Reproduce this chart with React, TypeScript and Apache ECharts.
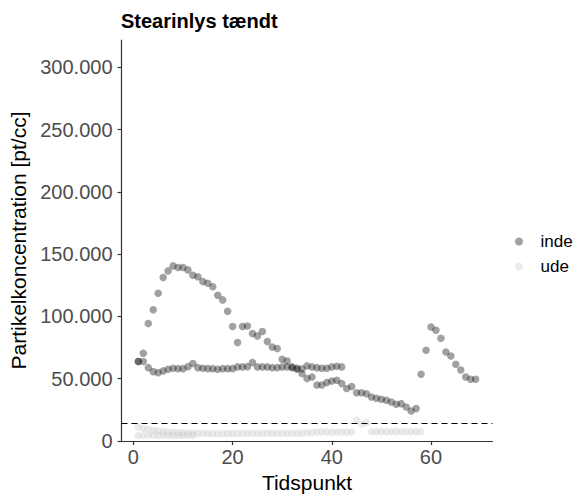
import React, { useEffect, useRef } from "react";
import * as echarts from "echarts";

const FONT = "'Liberation Sans', Arial, Helvetica, sans-serif";

const chartTitle = "Stearinlys tændt";
const xName = "Tidspunkt";
const yName = "Partikelkoncentration [pt/cc]";
const legendNames = ["inde", "ude"];
const xTicks = [0, 20, 40, 60];
const yTicks = [0, 50000, 100000, 150000, 200000, 250000, 300000];

// inde, instrument 1 (tidspunkt 1..69)
const indeA = [
  63800, 70500, 94300, 105300, 118700, 131300, 136600, 140600, 139300, 139300,
  137400, 133100, 131800, 128000, 126700, 123800, 117000, 113300, 104200, 91900,
  79000, 91900, 92400, 86300, 84400, 87900, 79800, 75500, 74200, 65600,
  64300, 58900, 57600, 54100, 50100, 51400, 45000, 45000, 46900, 48200,
  48800, 46100, 42100, 43700, 38800, 38800, 38000, 35400, 34300, 33500,
  32700, 31300, 29500, 30000, 27300, 24100, 26000, 53600, 72900, 91600,
  88900, 82500, 71500, 68300, 61600, 57000, 51400, 49600, 49600,
];

// inde, instrument 2 (tidspunkt 1..42)
const indeB = [
  63800, 63800, 58900, 55700, 54900, 56300, 57600, 58400, 58100, 58100,
  59700, 62200, 58900, 58400, 58100, 58100, 57600, 58100, 58100, 58100,
  59500, 59500, 59700, 63000, 59500, 59500, 59500, 58900, 58900, 59500,
  59500, 59500, 58400, 58000, 60300, 59500, 58900, 58400, 58400, 59500,
  60000, 59500,
];

// ude, instrument 1 (tidspunkt 1..58)
const udeA = [
  11200, 10200, 9400, 8600, 8000, 7500, 7200, 6900, 6700, 6600,
  6500, 6400, 6200, 6000, 5900, 5900, 5800, 5900, 6000, 5900,
  6000, 6100, 6000, 6200, 6100, 6300, 6200, 6000, 6100, 6200,
  6000, 6100, 6300, 6400, 6500, 6800, 7200, 7400, 7300, 7100,
  7000, 7200, 7000, 7300, 16900, 13400, 14700, 7400, 7600, 7500,
  7500, 7400, 7500, 7600, 7500, 7400, 7500, 7500,
];

// ude, instrument 2 (tidspunkt 1..12)
const udeB = [4400, 4600, 4500, 4700, 4500, 4600, 4400, 4500, 4600, 4500, 4400, 4500];

const threshold = 14200;

const toPoints = (arr: number[]) => arr.map((v, i) => [i + 1, v]);
const fmt = (v: number) => String(v).replace(/\B(?=(\d{3})+(?!\d))/g, ".");

const INDE_COLOR = "rgba(20,20,20,0.5)";
const UDE_COLOR = "rgba(204,204,204,0.5)";

export default function App() {
  const ref = useRef<HTMLDivElement>(null);
  useEffect(() => {
    if (!ref.current) return;
    const chart = echarts.init(ref.current, undefined, { renderer: "svg" });
    const axisLineStyle = { color: "#333333", width: 1.2 };
    chart.setOption({
      animation: false,
      backgroundColor: "#ffffff",
      textStyle: { fontFamily: FONT },
      title: {
        text: chartTitle,
        left: 121,
        top: 11,
        padding: 0,
        textStyle: { fontSize: 20, fontWeight: "bold", color: "#000", fontFamily: FONT },
      },
      legend: {
        orient: "vertical",
        left: 515,
        top: 233,
        padding: 0,
        icon: "circle",
        itemWidth: 33,
        itemHeight: 8,
        itemGap: 8,
        data: legendNames,
        textStyle: { fontSize: 17, color: "#000", fontFamily: FONT },
      },
      grid: { left: 121.5, top: 40, width: 371, height: 401, containLabel: false, outerBoundsMode: "none" },
      xAxis: {
        type: "value",
        min: -2.4,
        max: 72.4,
        name: xName,
        nameLocation: "middle",
        nameGap: 31,
        nameTextStyle: { fontSize: 21, color: "#000", fontFamily: FONT },
        axisLine: { show: true, onZero: false, lineStyle: axisLineStyle },
        axisTick: { show: true, length: 4, customValues: xTicks, lineStyle: axisLineStyle },
        axisLabel: { customValues: xTicks, fontSize: 20, color: "#4d4d4d", margin: 6, fontFamily: FONT },
        splitLine: { show: false },
      },
      yAxis: {
        type: "value",
        min: 0,
        max: 322000,
        name: yName,
        nameLocation: "middle",
        nameGap: 91,
        nameTextStyle: { fontSize: 21, color: "#000", fontFamily: FONT },
        axisLine: { show: true, onZero: false, lineStyle: axisLineStyle },
        axisTick: { show: true, length: 4, customValues: yTicks, lineStyle: axisLineStyle },
        axisLabel: {
          customValues: yTicks,
          fontSize: 20,
          color: "#4d4d4d",
          margin: 9,
          fontFamily: FONT,
          formatter: (v: number) => fmt(v),
        },
        splitLine: { show: false },
      },
      series: [
        {
          name: "inde",
          type: "scatter",
          symbol: "circle",
          symbolSize: 7.5,
          itemStyle: { color: INDE_COLOR },
          data: toPoints(indeA),
        },
        {
          name: "inde",
          type: "scatter",
          symbol: "circle",
          symbolSize: 7.5,
          itemStyle: { color: INDE_COLOR },
          data: toPoints(indeB),
        },
        {
          name: "ude",
          type: "scatter",
          symbol: "circle",
          symbolSize: 7.5,
          itemStyle: { color: UDE_COLOR },
          data: toPoints(udeA),
          markLine: {
            silent: true,
            symbol: ["none", "none"],
            label: { show: false },
            lineStyle: { type: [6, 4], color: "#000", width: 1.2 },
            data: [{ yAxis: threshold }],
          },
        },
        {
          name: "ude",
          type: "scatter",
          symbol: "circle",
          symbolSize: 7.5,
          itemStyle: { color: UDE_COLOR },
          data: toPoints(udeB),
        },
      ],
    });
    return () => chart.dispose();
  }, []);
  return (
    <div
      ref={ref}
      style={{ position: "fixed", left: 0, top: 0, width: 587, height: 494, background: "#fff" }}
    />
  );
}
